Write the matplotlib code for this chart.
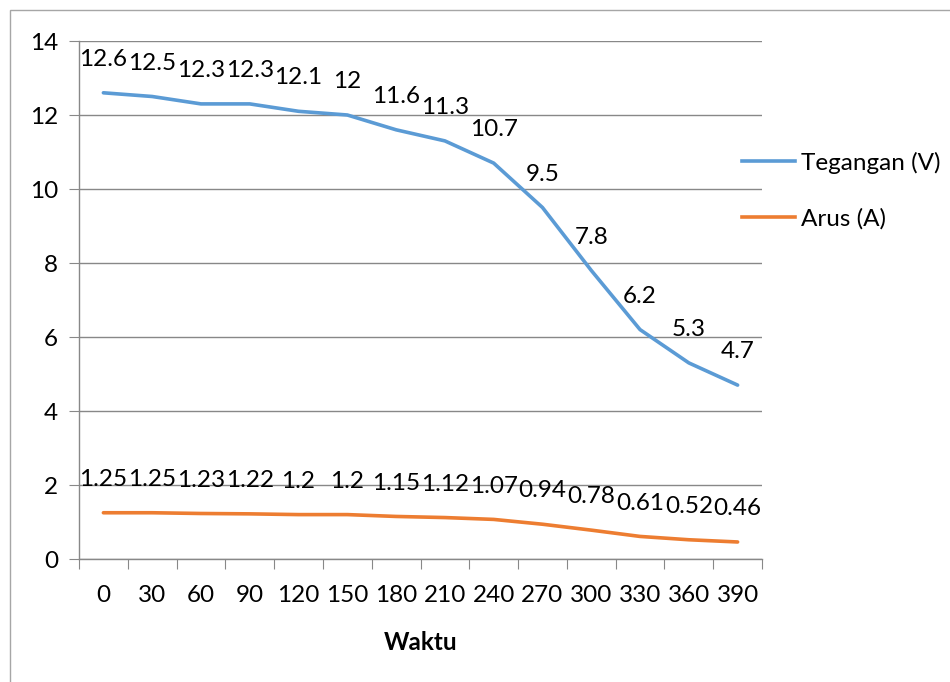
import matplotlib
matplotlib.use("Agg")
import matplotlib.pyplot as plt
from matplotlib.lines import Line2D
from matplotlib.patches import Rectangle

plt.rcParams['font.family'] = ['Lato', 'DejaVu Sans']

waktu = ["0", "30", "60", "90", "120", "150", "180", "210", "240", "270", "300", "330", "360", "390"]
tegangan = [12.6, 12.5, 12.3, 12.3, 12.1, 12, 11.6, 11.3, 10.7, 9.5, 7.8, 6.2, 5.3, 4.7]
arus = [1.25, 1.25, 1.23, 1.22, 1.2, 1.2, 1.15, 1.12, 1.07, 0.94, 0.78, 0.61, 0.52, 0.46]
tegangan_labels = ["12.6", "12.5", "12.3", "12.3", "12.1", "12", "11.6", "11.3", "10.7", "9.5", "7.8", "6.2", "5.3", "4.7"]
arus_labels = ["1.25", "1.25", "1.23", "1.22", "1.2", "1.2", "1.15", "1.12", "1.07", "0.94", "0.78", "0.61", "0.52", "0.46"]

FS = 17.5

fig = plt.figure(figsize=(9.5, 6.82), dpi=100)
# chart border (left/top visible)
fig.patches.append(Rectangle((10/950, -0.1), 1.2, 1 - 10/682 + 0.1, transform=fig.transFigure,
                             fill=False, edgecolor='#A6A6A6', linewidth=1.0))
ax = fig.add_axes([79/950, 1 - 559/682, (762 - 79)/950, (559 - 41)/682])

x = list(range(len(waktu)))
blue = '#5B9BD5'
orange = '#ED7D31'
ax.plot(x, tegangan, color=blue, linewidth=2.6, solid_capstyle='round', label='Tegangan (V)', zorder=3)
ax.plot(x, arus, color=orange, linewidth=2.6, solid_capstyle='round', label='Arus (A)', zorder=3)

for xi, v, t in zip(x, tegangan, tegangan_labels):
    ax.annotate(t, (xi, v), xytext=(0, 24), textcoords='offset points', ha='center', va='center',
                fontsize=FS, color='black')
for xi, v, t in zip(x, arus, arus_labels):
    ax.annotate(t, (xi, v), xytext=(0, 24), textcoords='offset points', ha='center', va='center',
                fontsize=FS, color='black')

ax.set_xlim(-0.5, len(waktu) - 0.5)
ax.set_ylim(0, 14)
ax.set_yticks(range(0, 15, 2))
ax.set_yticklabels([str(v) for v in range(0, 15, 2)], fontsize=FS)
ax.yaxis.grid(True, color='#888888', linewidth=1.0)
ax.set_axisbelow(True)

ax.set_xticks([i - 0.5 for i in range(len(waktu) + 1)])
ax.set_xticklabels([])
ax.set_xticks(x, minor=True)
ax.set_xticklabels(waktu, minor=True, fontsize=FS)
ax.tick_params(axis='x', which='major', length=7, color='#888888', direction='out')
ax.tick_params(axis='x', which='minor', length=0, pad=19)
ax.tick_params(axis='y', length=7, color='#888888', pad=8)

for s in ['top', 'right']:
    ax.spines[s].set_visible(False)
for s in ['left', 'bottom']:
    ax.spines[s].set_color('#888888')
    ax.spines[s].set_linewidth(1.0)

ax.set_xlabel('Waktu', fontsize=FS, fontweight='bold', labelpad=18)

handles = [Line2D([0], [0], color=blue, linewidth=2.6),
           Line2D([0], [0], color=orange, linewidth=2.6)]
fig.legend(handles, ['Tegangan (V)', 'Arus (A)'], loc='upper left',
           bbox_to_anchor=(720/950, 1 - 130/682), frameon=False, fontsize=FS,
           handlelength=2.2, handletextpad=0.25, labelspacing=1.39)

fig.savefig('out.png', dpi=100)
